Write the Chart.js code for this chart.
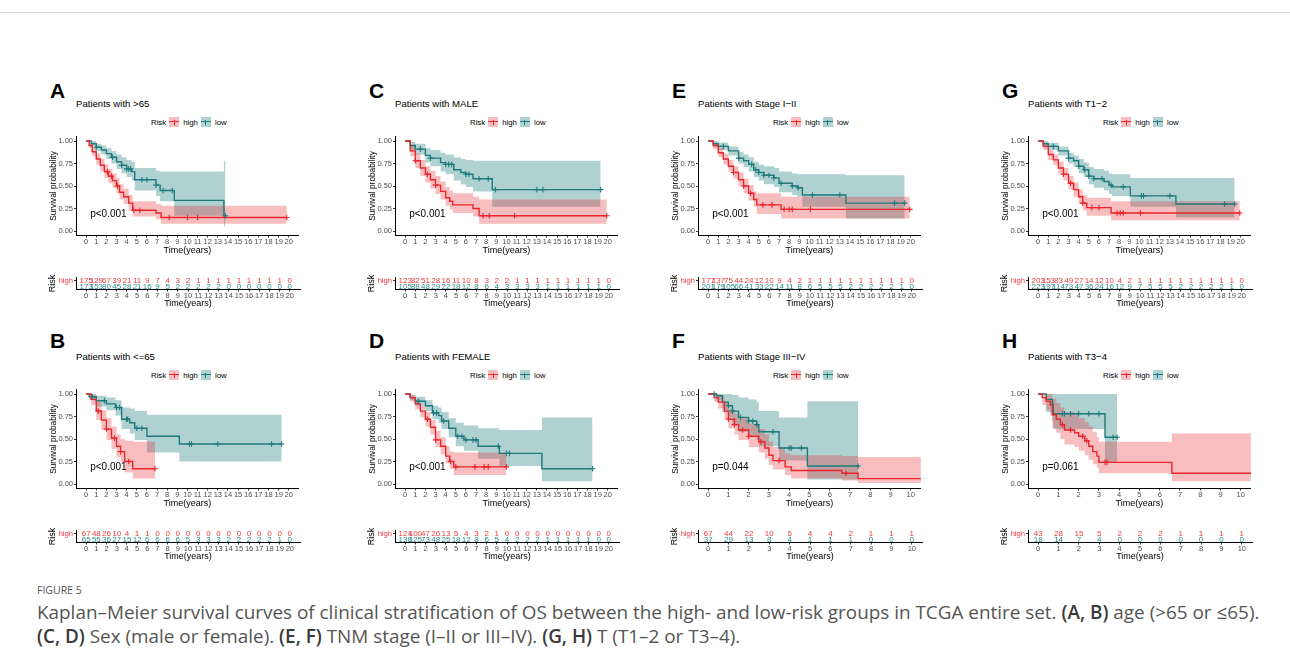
<!DOCTYPE html>
<html>
<head>
<meta charset="utf-8">
<script src="https://cdn.jsdelivr.net/npm/chart.js@4.4.1/dist/chart.umd.min.js"></script>
<style>
  body { margin: 0; background: #fff; }
  #fig { position: relative; width: 1290px; height: 670px; overflow: hidden; font-family: "Liberation Sans", Arial, sans-serif; }
  #fig canvas, .abs { position: absolute; }
  .topline { left: 0; top: 12px; width: 1290px; height: 1px; background: #d9d9d9; }
  .letter { font-weight: bold; font-size: 21px; line-height: 1; }
  .ptitle { font-size: 9.6px; line-height: 12px; white-space: nowrap; }
  .legend { display: flex; align-items: center; height: 12px; font-size: 7.8px; white-space: nowrap; }
  .key { display: inline-block; width: 10px; height: 10px; margin: 0 4px 0 3px; }
  .cap { left: 37px; font-family: "Open Sans", sans-serif; font-size: 18.9px; line-height: 24px; color: #555; white-space: nowrap; }
  .cap b { color: #3a3a3a; font-weight: 600; }
</style>
</head>
<body>
<div id="fig">
  <div class="abs topline"></div>
  <div class="abs" style="left:37px;top:583px;font-family:'Open Sans',sans-serif;font-size:10.5px;line-height:14px;color:#555;">FIGURE 5</div>
  <div class="abs cap" style="top:600px;">Kaplan–Meier survival curves of clinical stratification of OS between the high- and low-risk groups in TCGA entire set. <b>(A, B)</b> age (&gt;65 or ≤65).</div>
  <div class="abs cap" style="top:624px;"><b>(C, D)</b> Sex (male or female). <b>(E, F)</b> TNM stage (I–II or III–IV). <b>(G, H)</b> T (T1–2 or T3–4).</div>
</div>
<script>
const FONT = '"Liberation Sans", Arial, sans-serif';
Chart.defaults.font.family = FONT;

const HIGH = '#E8262B', LOW = '#1E7B7B';
const HIGH_BAND = 'rgba(232,38,43,0.3)', LOW_BAND = 'rgba(30,123,123,0.35)';
const HIGH_TXT = '#EE3A3E', LOW_TXT = '#2A8A8A';

const yTicks = [0, 0.25, 0.5, 0.75, 1];
const ticks20 = [0,1,2,3,4,5,6,7,8,9,10,11,12,13,14,15,16,17,18,19,20];
const ticks10 = [0,1,2,3,4,5,6,7,8,9,10];

const letters = ['A','B','C','D','E','F','G','H'];
const titles = ['Patients with >65','Patients with <=65','Patients with MALE','Patients with FEMALE',
  'Patients with Stage I\u2212II','Patients with Stage III\u2212IV','Patients with T1\u22122','Patients with T3\u22124'];
const pValues = ['p<0.001','p<0.001','p<0.001','p<0.001','p<0.001','p=0.044','p<0.001','p=0.061'];

// A: >65
const aHighT = [0,0.3,0.6,1.0,1.4,1.8,2.2,2.6,3.0,3.3,3.7,4.2,4.6,6.9,7.4,19.8];
const aHighS = [1,0.95,0.88,0.80,0.73,0.66,0.61,0.56,0.50,0.43,0.38,0.31,0.23,0.20,0.15,0.15];
const aHighU = [1,0.98,0.93,0.86,0.80,0.74,0.69,0.64,0.59,0.52,0.47,0.40,0.33,0.30,0.28,0.28];
const aHighL = [1,0.92,0.83,0.74,0.66,0.59,0.53,0.48,0.42,0.35,0.30,0.23,0.16,0.13,0.08,0.08];
const aHighC = [2.1,2.5,3.1,4.7,5.3,8.2,10,11,19.8];
const aLowT = [0,0.5,1.0,1.5,2.0,2.5,3.0,3.5,4.0,4.5,4.8,6.9,7.3,8.7,13.6,13.75];
const aLowS = [1,0.97,0.93,0.90,0.86,0.82,0.77,0.73,0.69,0.66,0.57,0.51,0.45,0.34,0.17,0.17];
const aLowU = [1,1.0,0.97,0.95,0.92,0.89,0.85,0.82,0.79,0.77,0.70,0.67,0.66,0.66,0.78,0.78];
const aLowL = [1,0.94,0.89,0.85,0.80,0.75,0.69,0.64,0.60,0.56,0.45,0.39,0.33,0.17,0.05,0.05];
const aLowC = [1.0,2.6,3.5,4.0,4.2,4.4,5.5,6.0,6.9,7.6,8.5,13.75];
const aHighN = [175,129,67,39,21,11,9,7,4,3,2,1,1,1,1,1,1,1,1,1,0];
const aLowN = [173,153,80,45,28,21,16,9,5,2,2,2,2,2,0,0,0,0,0,0,0];

// B: <=65
const bHighT = [0,0.5,1.0,1.5,2.0,2.5,3.0,3.4,3.8,4.6,6.8];
const bHighS = [1,0.94,0.81,0.71,0.61,0.51,0.42,0.36,0.25,0.17,0.17];
const bHighU = [1,0.99,0.91,0.82,0.73,0.64,0.55,0.50,0.48,0.47,0.47];
const bHighL = [1,0.88,0.71,0.60,0.49,0.39,0.30,0.24,0.13,0.06,0.06];
const bHighC = [1.2,2.0,2.8,3.4,4.2,6.8];
const bLowT = [0,0.3,1.0,2.0,2.9,3.5,4.3,4.8,6.0,9.2,19.3];
const bLowS = [1,0.97,0.925,0.89,0.85,0.72,0.68,0.62,0.53,0.445,0.445];
const bLowU = [1,1.0,0.98,0.96,0.93,0.85,0.84,0.81,0.77,0.77,0.77];
const bLowL = [1,0.93,0.86,0.82,0.76,0.61,0.56,0.49,0.35,0.25,0.25];
const bLowC = [0.6,1.8,3.0,3.3,4.0,4.1,5.0,5.5,10.2,10.4,13,18.3,19.3];
const bHighN = [67,48,26,10,4,1,1,0,0,0,0,0,0,0,0,0,0,0,0,0,0];
const bLowN = [65,55,36,27,15,12,6,6,6,6,5,3,3,3,2,2,2,2,2,1,0];

// C: MALE
const cHighT = [0,0.5,1.0,1.5,2.0,2.5,3.0,3.5,4.0,4.4,4.7,6.7,7.3,19.9];
const cHighS = [1,0.89,0.78,0.70,0.63,0.57,0.51,0.44,0.37,0.33,0.29,0.25,0.17,0.17];
const cHighU = [1,0.95,0.86,0.79,0.72,0.67,0.61,0.55,0.49,0.45,0.42,0.38,0.35,0.35];
const cHighL = [1,0.83,0.70,0.61,0.54,0.47,0.41,0.35,0.28,0.24,0.20,0.16,0.08,0.08];
const cHighC = [1.0,2.2,3.0,7.7,8.3,10.8,19.9];
const cLowT = [0,0.5,1.0,2.0,2.5,3.5,4.0,4.8,5.5,6.0,6.7,8.6,19.3];
const cLowS = [1,0.95,0.91,0.84,0.81,0.76,0.74,0.68,0.65,0.63,0.58,0.46,0.46];
const cLowU = [1,0.99,0.97,0.92,0.90,0.87,0.85,0.82,0.80,0.79,0.78,0.78,0.78];
const cLowL = [1,0.90,0.85,0.76,0.72,0.66,0.63,0.56,0.52,0.49,0.44,0.27,0.27];
const cLowC = [1.5,2.5,4.0,4.3,4.6,6.0,6.3,7.3,8.2,8.9,13.0,13.6,19.3];
const cHighN = [123,82,51,28,16,11,10,8,3,2,2,1,1,1,1,1,1,1,1,1,0];
const cLowN = [105,88,48,29,22,18,12,8,6,4,3,3,3,3,1,1,1,1,1,1,0];

// D: FEMALE
const dHighT = [0,0.5,1.0,1.5,2.0,2.5,3.0,3.5,4.0,4.4,4.8,10.0];
const dHighS = [1,0.96,0.89,0.81,0.72,0.63,0.49,0.42,0.31,0.25,0.19,0.19];
const dHighU = [1,0.99,0.94,0.87,0.80,0.71,0.59,0.52,0.42,0.36,0.35,0.35];
const dHighL = [1,0.92,0.83,0.74,0.64,0.55,0.41,0.33,0.23,0.17,0.10,0.10];
const dHighC = [2.2,3.0,4.5,5.0,6.9,7.8,8.2,10.0];
const dLowT = [0,0.5,1.0,2.0,2.7,3.3,3.6,4.3,5.0,5.8,7.2,9.3,13.5,18.5];
const dLowS = [1,0.96,0.92,0.87,0.79,0.76,0.70,0.62,0.53,0.49,0.42,0.34,0.17,0.17];
const dLowU = [1,0.99,0.97,0.93,0.87,0.85,0.80,0.73,0.68,0.65,0.62,0.60,0.74,0.74];
const dLowL = [1,0.93,0.87,0.81,0.72,0.68,0.61,0.52,0.42,0.37,0.28,0.20,0.03,0.03];
const dLowC = [1.3,2.8,3.1,3.8,5.2,5.6,6.0,6.7,7.0,9.2,10.0,10.3,18.5];
const dHighN = [124,100,47,26,13,5,4,3,2,1,0,0,0,0,0,0,0,0,0,0,0];
const dLowN = [138,125,73,48,25,18,12,8,6,5,4,2,2,2,1,1,1,1,1,0,0];

// E: Stage I-II
const eHighT = [0,0.5,1.0,1.5,2.0,2.5,3.0,3.5,4.0,4.5,4.8,7.2,19.9];
const eHighS = [1,0.95,0.87,0.80,0.72,0.65,0.57,0.50,0.42,0.35,0.29,0.24,0.24];
const eHighU = [1,0.98,0.92,0.86,0.79,0.72,0.65,0.58,0.51,0.44,0.42,0.38,0.38];
const eHighL = [1,0.91,0.82,0.74,0.66,0.58,0.50,0.42,0.34,0.27,0.19,0.14,0.14];
const eHighC = [2.5,3.5,4.2,5.4,6.3,7.5,8.0,8.3,10.1,19.9];
const eLowT = [0,0.5,1.0,2.0,3.0,3.5,4.0,4.5,5.0,5.5,6.5,7.0,8.3,8.8,9.3,13.6,19.4];
const eLowS = [1,0.97,0.94,0.89,0.81,0.78,0.74,0.68,0.65,0.62,0.59,0.53,0.50,0.48,0.40,0.31,0.31];
const eLowU = [1,1.0,0.98,0.94,0.88,0.85,0.82,0.77,0.74,0.72,0.70,0.66,0.64,0.63,0.63,0.62,0.62];
const eLowL = [1,0.94,0.90,0.84,0.75,0.71,0.66,0.60,0.56,0.52,0.49,0.43,0.40,0.38,0.27,0.14,0.14];
const eLowC = [1.5,3.0,4.3,4.7,5.0,5.5,6.0,6.5,7.2,8.3,8.9,10.3,13.0,18.4,19.4];
const eHighN = [177,137,75,44,24,12,10,9,4,2,1,1,1,1,1,1,1,1,1,1,0];
const eLowN = [201,179,105,66,41,33,22,14,11,8,6,5,5,5,2,2,2,2,2,1,0];

// F: Stage III-IV
const fHighT = [0,0.3,0.5,0.8,1.0,1.3,1.5,2.0,2.5,2.8,3.0,3.2,3.8,4.1,6.6,7.4,10.6];
const fHighS = [1,0.96,0.91,0.81,0.72,0.66,0.60,0.53,0.47,0.40,0.32,0.26,0.19,0.15,0.12,0.06,0.06];
const fHighU = [1,1.0,0.98,0.91,0.83,0.78,0.73,0.67,0.61,0.55,0.47,0.41,0.34,0.32,0.31,0.30,0.30];
const fHighL = [1,0.91,0.84,0.72,0.62,0.55,0.49,0.41,0.35,0.28,0.21,0.16,0.10,0.06,0.04,0.01,0.01];
const fHighC = [1.0,1.3,1.7,2.0,2.6,3.5,6.8];
const fLowT = [0,0.4,0.7,1.0,1.2,1.5,2.0,2.4,2.5,3.5,4.9,7.4];
const fLowS = [1,0.98,0.91,0.87,0.81,0.74,0.70,0.66,0.58,0.40,0.20,0.20];
const fLowU = [1,1.0,1.0,1.0,0.99,0.96,0.94,0.91,0.81,0.74,0.92,0.92];
const fLowL = [1,0.93,0.80,0.74,0.66,0.58,0.54,0.49,0.42,0.26,0.05,0.05];
const fLowC = [0.3,1.0,1.2,1.6,2.0,2.2,2.4,3.2,4.0,4.1,4.6,7.4];
const fHighN = [67,44,22,10,5,4,4,2,1,1,1];
const fLowN = [37,29,13,8,4,1,1,1,0,0,0];

// G: T1-2
const gHighT = [0,0.5,1.0,1.5,2.0,2.5,3.0,3.5,4.0,4.4,4.8,7.2,19.9];
const gHighS = [1,0.94,0.85,0.79,0.70,0.63,0.53,0.46,0.38,0.31,0.26,0.20,0.20];
const gHighU = [1,0.97,0.90,0.85,0.77,0.70,0.61,0.54,0.46,0.40,0.37,0.33,0.33];
const gHighL = [1,0.90,0.79,0.73,0.63,0.56,0.46,0.38,0.30,0.23,0.17,0.12,0.12];
const gHighC = [2.5,3.2,4.4,5.3,6.0,7.8,8.1,8.4,10.1,19.9];
const gLowT = [0,0.5,1.0,2.0,3.0,3.5,4.0,4.5,5.0,5.5,6.5,7.0,7.3,9.1,13.6,19.4];
const gLowS = [1,0.97,0.94,0.89,0.81,0.78,0.72,0.68,0.61,0.58,0.55,0.51,0.49,0.39,0.30,0.30];
const gLowU = [1,1.0,0.98,0.94,0.87,0.84,0.80,0.76,0.71,0.69,0.67,0.64,0.63,0.59,0.59,0.59];
const gLowL = [1,0.94,0.90,0.84,0.75,0.71,0.64,0.60,0.52,0.48,0.45,0.41,0.39,0.27,0.15,0.15];
const gLowC = [1.5,3.0,4.0,4.6,5.0,5.5,6.3,7.2,8.4,10.2,10.4,13.0,18.4,19.4];
const gHighN = [203,153,83,49,27,14,12,10,4,2,1,1,1,1,1,1,1,1,1,1,0];
const gLowN = [223,197,114,73,47,36,24,16,12,9,7,5,5,5,2,2,2,2,2,1,0];

// H: T3-4
const hHighT = [0,0.2,0.4,0.6,0.7,0.9,1.1,1.3,1.8,2.0,2.3,2.5,2.7,2.9,3.0,6.6,10.6];
const hHighS = [1,0.96,0.92,0.88,0.77,0.72,0.66,0.60,0.57,0.53,0.48,0.42,0.36,0.31,0.24,0.12,0.12];
const hHighU = [1,1.0,1.0,1.0,0.95,0.90,0.85,0.80,0.77,0.73,0.69,0.64,0.58,0.52,0.47,0.56,0.56];
const hHighL = [1,0.88,0.82,0.76,0.62,0.57,0.50,0.44,0.41,0.37,0.32,0.27,0.22,0.18,0.12,0.03,0.03];
const hHighC = [1.2,1.6,2.2,2.4,3.3,3.4];
const hLowT = [0,0.4,0.7,0.75,3.3,3.9];
const hLowS = [1,0.94,0.89,0.78,0.52,0.52];
const hLowU = [1,1.0,1.0,1.0,1.0,1.0];
const hLowL = [1,0.80,0.70,0.61,0.24,0.24];
const hLowC = [1.2,1.3,1.6,2.0,2.5,3.0,3.7,3.9];
const hHighN = [43,28,15,5,2,2,2,1,1,1,1];
const hLowN = [18,14,7,4,0,0,0,0,0,0,0];

// layout of the 4x2 grid (y-axis line x per column, row shift)
const colAxisX = [76, 395, 698, 1028];
const ROW_DY = 253;

const curve = (t, s, u, l, c, n) => ({ t, s, u, l, c, n });
const panels = [
  [curve(aHighT,aHighS,aHighU,aHighL,aHighC,aHighN), curve(aLowT,aLowS,aLowU,aLowL,aLowC,aLowN), ticks20],
  [curve(bHighT,bHighS,bHighU,bHighL,bHighC,bHighN), curve(bLowT,bLowS,bLowU,bLowL,bLowC,bLowN), ticks20],
  [curve(cHighT,cHighS,cHighU,cHighL,cHighC,cHighN), curve(cLowT,cLowS,cLowU,cLowL,cLowC,cLowN), ticks20],
  [curve(dHighT,dHighS,dHighU,dHighL,dHighC,dHighN), curve(dLowT,dLowS,dLowU,dLowL,dLowC,dLowN), ticks20],
  [curve(eHighT,eHighS,eHighU,eHighL,eHighC,eHighN), curve(eLowT,eLowS,eLowU,eLowL,eLowC,eLowN), ticks20],
  [curve(fHighT,fHighS,fHighU,fHighL,fHighC,fHighN), curve(fLowT,fLowS,fLowU,fLowL,fLowC,fLowN), ticks10],
  [curve(gHighT,gHighS,gHighU,gHighL,gHighC,gHighN), curve(gLowT,gLowS,gLowU,gLowL,gLowC,gLowN), ticks20],
  [curve(hHighT,hHighS,hHighU,hHighL,hHighC,hHighN), curve(hLowT,hLowS,hLowU,hLowL,hLowC,hLowN), ticks10],
];

function survAt(g, t) {
  let v = g.s[0];
  for (let i = 0; i < g.t.length; i++) if (g.t[i] <= t) v = g.s[i];
  return v;
}

const pText = {
  id: 'pText',
  afterDatasetsDraw(chart, args, o) {
    const { ctx, scales: { x, y } } = chart;
    ctx.save();
    ctx.font = '10px ' + FONT;
    ctx.fillStyle = '#000';
    ctx.textAlign = 'left';
    ctx.textBaseline = 'middle';
    ctx.fillText(o.text, x.getPixelForValue(o.x), y.getPixelForValue(o.y));
    ctx.restore();
  }
};

const riskNums = {
  id: 'riskNums',
  afterDraw(chart, args, o) {
    const { ctx, scales: { x, y } } = chart;
    ctx.save();
    ctx.font = '8px ' + FONT;
    ctx.textAlign = 'center';
    ctx.textBaseline = 'middle';
    o.rows.forEach((row, r) => {
      ctx.fillStyle = o.colors[r];
      row.forEach((n, i) => ctx.fillText(String(n), x.getPixelForValue(o.times[i]), y.getPixelForValue(r)));
    });
    ctx.restore();
  }
};

function xScale(ticks, height) {
  const span = ticks[ticks.length - 1];
  return {
    type: 'linear', min: -span / 20, max: span * 1.05,
    afterBuildTicks: s => { s.ticks = ticks.map(v => ({ value: v })); },
    afterFit: s => { s.height = height; },
    grid: { display: true, drawOnChartArea: false, drawTicks: true, tickLength: 2, color: '#333' },
    border: { display: true, color: '#000', width: 1 },
    ticks: { font: { size: 7.5 }, color: '#4D4D4D', padding: 0, maxRotation: 0, autoSkip: false },
    title: { display: true, text: 'Time(years)', font: { size: 9 }, color: '#000', padding: 0 }
  };
}

function addDiv(cls, html, left, top) {
  const d = document.createElement('div');
  d.className = 'abs ' + cls;
  d.innerHTML = html;
  d.style.left = left + 'px';
  d.style.top = top + 'px';
  document.getElementById('fig').appendChild(d);
  return d;
}

function keyStyle(line, band) {
  return `background:linear-gradient(${line},${line}) center/100% 1.2px no-repeat,` +
    `linear-gradient(${line},${line}) center/1px 5px no-repeat,${band};`;
}

function makePanel(idx) {
  const [hi, lo, ticks] = panels[idx];
  const row = idx % 2, col = Math.floor(idx / 2);
  const ax = colAxisX[col], dy = row * ROW_DY;
  const span = ticks[ticks.length - 1];

  addDiv('letter', letters[idx], ax - 26, 80 + row * 250);
  addDiv('ptitle', titles[idx].replace(/</g, '&lt;').replace(/>/g, '&gt;'), ax, 97.5 + dy);
  addDiv('legend',
    `<span>Risk</span><span class="key" style="${keyStyle(HIGH, HIGH_BAND)}"></span><span>high</span>` +
    `<span class="key" style="${keyStyle(LOW, LOW_BAND)}"></span><span>low</span>`, ax + 75, 116 + dy);

  // survival curves
  const c = document.createElement('canvas');
  c.width = 255; c.height = 126;
  c.style.left = (ax - 27) + 'px';
  c.style.top = (130 + dy) + 'px';
  document.getElementById('fig').appendChild(c);

  const pts = (t, v) => t.map((x, i) => ({ x, y: v[i] }));
  const bandSets = (g, col) => [
    { data: pts(g.t, g.u), stepped: true, borderWidth: 0, pointRadius: 0, backgroundColor: col, fill: '+1', order: 3 },
    { data: pts(g.t, g.l), stepped: true, borderWidth: 0, pointRadius: 0, fill: false, order: 3 }
  ];
  const lineSet = (g, col) => ({ data: pts(g.t, g.s), stepped: true, borderColor: col, borderWidth: 1.4, pointRadius: 0, fill: false, order: 2 });
  const censSet = (g, col) => ({
    data: g.c.map(t => ({ x: t, y: survAt(g, t) })), showLine: false, pointStyle: 'cross',
    pointRadius: 2.8, borderColor: col, pointBorderWidth: 1.1, order: 1
  });

  new Chart(c, {
    type: 'line',
    data: {
      datasets: [
        ...bandSets(hi, HIGH_BAND), ...bandSets(lo, LOW_BAND),
        lineSet(hi, HIGH), lineSet(lo, LOW), censSet(hi, HIGH), censSet(lo, LOW)
      ]
    },
    plugins: [pText],
    options: {
      responsive: false, animation: false,
      layout: { padding: { top: 6.5, right: 4, left: 0, bottom: 0 } },
      plugins: {
        legend: { display: false }, tooltip: { enabled: false },
        pText: { text: pValues[idx], x: span / 50, y: 0.19 }
      },
      scales: {
        x: xScale(ticks, 20.5),
        y: {
          min: -0.05, max: 1.05,
          afterBuildTicks: s => { s.ticks = yTicks.map(v => ({ value: v })); },
          afterFit: s => { s.width = 27; },
          grid: { display: true, drawOnChartArea: false, drawTicks: true, tickLength: 2, color: '#333' },
          border: { display: true, color: '#000', width: 1 },
          ticks: { font: { size: 7.5 }, color: '#4D4D4D', padding: 1, callback: v => Number(v).toFixed(2) },
          title: { display: true, text: 'Survival probability', font: { size: 8.3 }, color: '#000', padding: 0 }
        }
      }
    }
  });

  // number at risk table
  const r = document.createElement('canvas');
  r.width = 257; r.height = 37;
  r.style.left = (ax - 29) + 'px';
  r.style.top = (272 + dy) + 'px';
  document.getElementById('fig').appendChild(r);

  new Chart(r, {
    type: 'line',
    data: { datasets: [] },
    plugins: [riskNums],
    options: {
      responsive: false, animation: false,
      layout: { padding: { top: 3, right: 4, left: 0, bottom: 0 } },
      plugins: {
        legend: { display: false }, tooltip: { enabled: false },
        riskNums: { rows: [hi.n, lo.n], times: ticks, colors: [HIGH_TXT, LOW_TXT] }
      },
      scales: {
        x: xScale(ticks, 19.5),
        y: {
          type: 'category', labels: ['high', 'low'], offset: true,
          afterFit: s => { s.width = 29; },
          grid: { display: true, drawOnChartArea: false, drawTicks: true, tickLength: 2, color: '#333' },
          border: { display: true, color: '#000', width: 1 },
          ticks: { font: { size: 7.6 }, padding: 1, color: ctx => ctx.index === 0 ? HIGH_TXT : LOW_TXT },
          title: { display: true, text: 'Risk', font: { size: 9 }, color: '#000', padding: 0 }
        }
      }
    }
  });
}

for (let i = 0; i < panels.length; i++) makePanel(i);
</script>
</body>
</html>
